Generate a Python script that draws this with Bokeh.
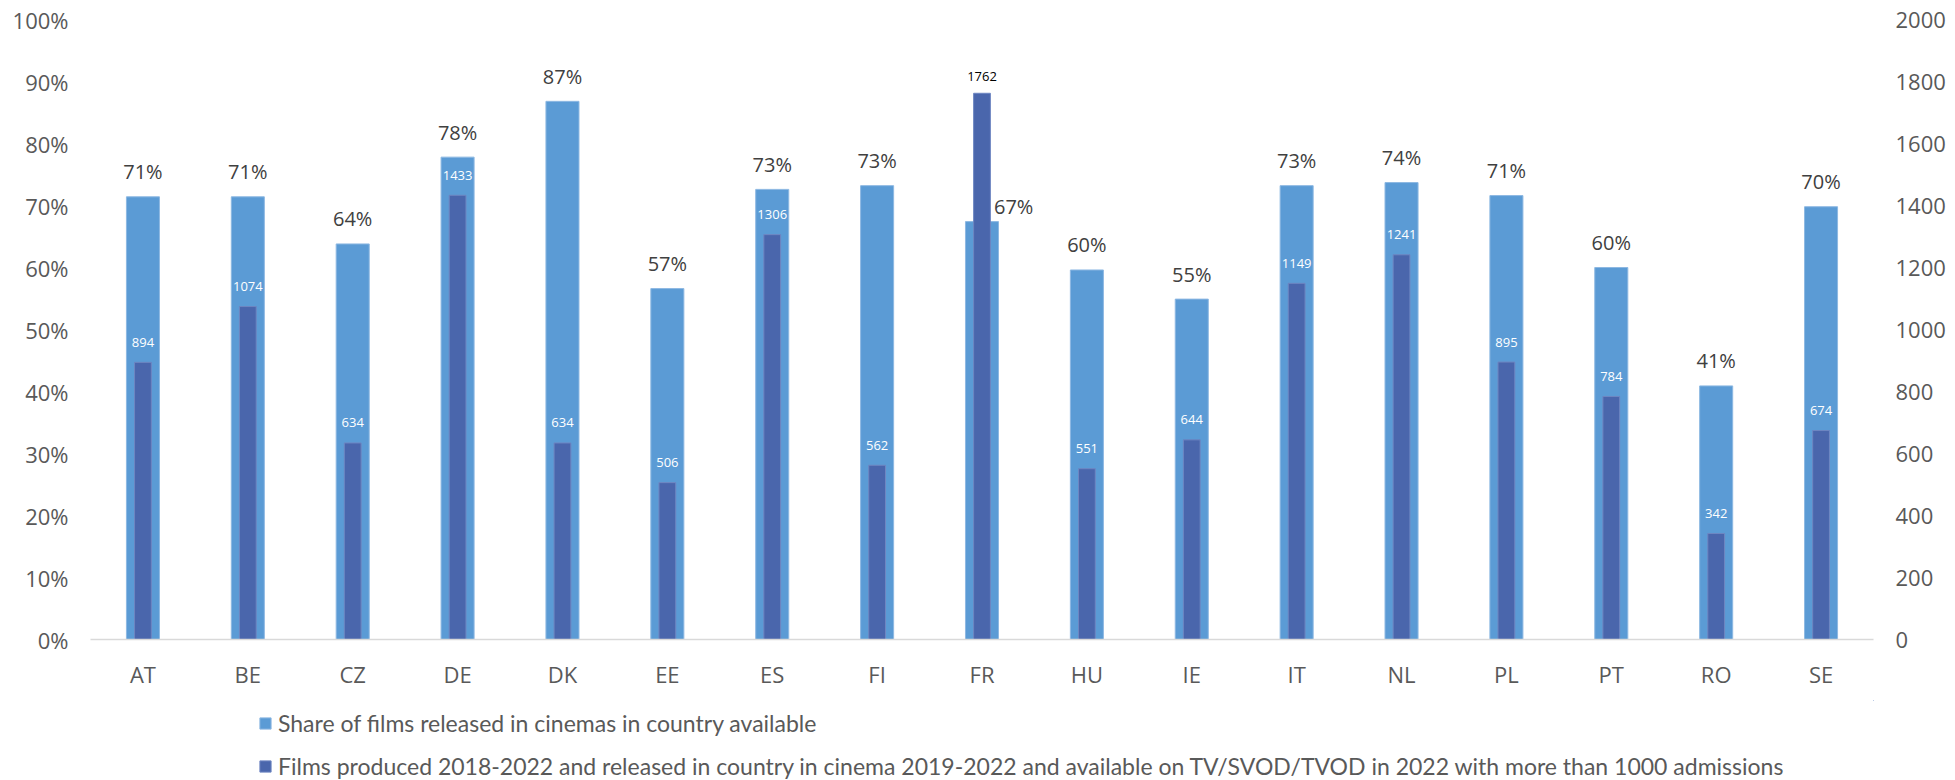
from bokeh.plotting import figure
from bokeh.layouts import column
from bokeh.models import (ColumnDataSource, FactorRange, Range1d, LinearAxis, FixedTicker,
                          PrintfTickFormatter, Legend, LegendItem)
from bokeh.core.properties import value
from bokeh.embed import file_html
from bokeh.resources import INLINE

countries = ["AT", "BE", "CZ", "DE", "DK", "EE", "ES", "FI", "FR", "HU", "IE", "IT", "NL", "PL", "PT", "RO", "SE"]
share_pct = [71.4, 71.4, 63.8, 77.8, 86.8, 56.6, 72.6, 73.2, 67.4, 59.6, 54.9, 73.2, 73.7, 71.6, 60.0, 40.9, 69.8]
share_labels = ["71%", "71%", "64%", "78%", "87%", "57%", "73%", "73%", "67%", "60%", "55%", "73%", "74%", "71%", "60%", "41%", "70%"]
films_count = [894, 1074, 634, 1433, 634, 506, 1306, 562, 1762, 551, 644, 1149, 1241, 895, 784, 342, 674]
series_names = ["Share of films released in cinemas in country available",
                "Films produced 2018-2022 and released in country in cinema 2019-2022 and available on TV/SVOD/TVOD in 2022 with more than 1000 admissions"]

left_ticks = list(range(0, 101, 10))
right_ticks = list(range(0, 2001, 200))
RIGHT_MAX = 2000

LIGHT = "#5B9BD5"
DARK = "#4A66AC"
LIGHT_EDGE = "#8DB8E2"
DARK_EDGE = "#6E86C2"
AXIS_TXT = "#595959"
LBL_TXT = "#404040"
FONT = "Open Sans"

p = figure(width=1955, height=700, x_range=FactorRange(factors=countries, range_padding=0),
           y_range=Range1d(0, 100), output_backend="svg", toolbar_location=None,
           min_border_left=90, min_border_right=82, min_border_top=19, min_border_bottom=61)
p.extra_y_ranges = {"right": Range1d(0, RIGHT_MAX)}
p.outline_line_color = None
p.xgrid.visible = False
p.ygrid.visible = False

src = ColumnDataSource(dict(country=countries, share=share_pct, films=films_count))

p.vbar(x="country", top="share", width=0.315, source=src,
       fill_color=LIGHT, line_color=LIGHT_EDGE, line_width=1)
p.vbar(x="country", top="films", width=0.16, source=src, y_range_name="right",
       fill_color=DARK, line_color=DARK_EDGE, line_width=1)

# labels: where the dark bar rises above the light bar, labels move outside
over = [f / RIGHT_MAX * 100 > s for f, s in zip(films_count, share_pct)]
idx_n = [i for i in range(len(countries)) if not over[i]]
idx_o = [i for i in range(len(countries)) if over[i]]

def sub(idx):
    return ColumnDataSource(dict(country=[countries[i] for i in idx],
                                 share=[share_pct[i] for i in idx],
                                 films=[films_count[i] for i in idx],
                                 slabel=[share_labels[i] for i in idx],
                                 flabel=[str(films_count[i]) for i in idx]))

sn, so = sub(idx_n), sub(idx_o)

p.text(x="country", y="share", text="slabel", source=sn, text_align="center",
       text_baseline="middle", y_offset=-25, text_font=value(FONT),
       text_font_size="20px", text_color=LBL_TXT)
p.text(x="country", y="share", text="slabel", source=so, text_align="left",
       text_baseline="middle", x_offset=12, y_offset=-15, text_font=value(FONT),
       text_font_size="20px", text_color=LBL_TXT)
p.text(x="country", y="films", text="flabel", source=sn, y_range_name="right",
       text_align="center", text_baseline="middle", y_offset=-20,
       text_font=value(FONT), text_font_size="13px", text_color="white")
p.text(x="country", y="films", text="flabel", source=so, y_range_name="right",
       text_align="center", text_baseline="middle", y_offset=-17,
       text_font=value(FONT), text_font_size="13px", text_color="black")

def style_axis(ax):
    ax.axis_line_color = None
    ax.major_tick_line_color = None
    ax.minor_tick_line_color = None
    ax.major_tick_out = 0
    ax.minor_tick_out = 0
    ax.major_label_text_font = FONT
    ax.major_label_text_font_size = "22px"
    ax.major_label_text_color = AXIS_TXT
    ax.major_label_standoff = 22

yl = p.yaxis[0]
yl.ticker = FixedTicker(ticks=left_ticks)
yl.formatter = PrintfTickFormatter(format="%d%%")
style_axis(yl)

yr = LinearAxis(y_range_name="right", ticker=FixedTicker(ticks=right_ticks))
style_axis(yr)
p.add_layout(yr, "right")

xa = p.xaxis[0]
style_axis(xa)
xa.axis_line_color = "#D9D9D9"
xa.axis_line_width = 1.5
xa.major_label_standoff = 19

# legend panel underneath (separate figure; its swatch renderers sit outside its visible range)
lf = figure(width=1955, height=80, output_backend="svg", toolbar_location=None,
            x_axis_location=None, y_axis_location=None,
            x_range=Range1d(0, 1), y_range=Range1d(0, 1),
            min_border_left=0, min_border_right=0, min_border_top=0, min_border_bottom=0)
lf.outline_line_color = None
lf.xgrid.visible = False
lf.ygrid.visible = False
hidden = ColumnDataSource(dict(x=[50], top=[50], bottom=[49]))
g1 = lf.vbar(x="x", top="top", bottom="bottom", width=0.1, source=hidden,
             fill_color=LIGHT, line_color=LIGHT_EDGE)
g2 = lf.vbar(x="x", top="top", bottom="bottom", width=0.1, source=hidden,
             fill_color=DARK, line_color=DARK_EDGE)

legend = Legend(items=[LegendItem(label=series_names[0], renderers=[g1]),
                       LegendItem(label=series_names[1], renderers=[g2])],
                orientation="vertical", location=(168, 0), padding=0, margin=0, spacing=15,
                glyph_width=14, glyph_height=14, label_standoff=6,
                label_text_font="Lato", label_text_font_size="23px", label_text_color=AXIS_TXT,
                border_line_color=None, background_fill_alpha=0)
lf.add_layout(legend, "center")

layout = column(p, lf, spacing=0)
open("out.html", "w").write(file_html(layout, INLINE))
